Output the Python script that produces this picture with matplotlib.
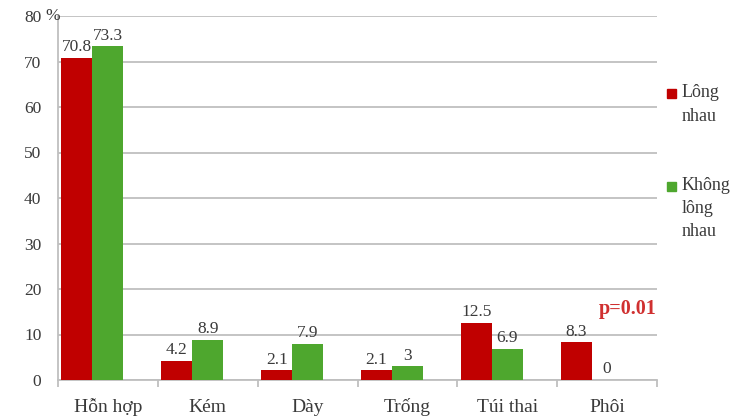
import matplotlib
matplotlib.use("Agg")
import matplotlib.pyplot as plt
import numpy as np

categories = ["Hỗn hợp", "Kém", "Dày", "Trống", "Túi thai", "Phôi"]
long_nhau = [70.8, 4.2, 2.1, 2.1, 12.5, 8.3]
khong_long_nhau = [73.3, 8.9, 7.9, 3.0, 6.9, 0.0]
long_labels = ["70.8", "4.2", "2.1", "2.1", "12.5", "8.3"]
khong_labels = ["73.3", "8.9", "7.9", "3", "6.9", "0"]
y_ticks = [0, 10, 20, 30, 40, 50, 60, 70, 80]
series_names = ["Lông\nnhau", "Không\nlông\nnhau"]
p_text = "p=0.01"

RED = "#c00000"
GREEN = "#4ea72e"
TEXT = "#3a3a3a"
GRID = "#bfbfbf"

plt.rcParams["font.family"] = ["Liberation Serif", "DejaVu Serif"]

W, H = 749, 420
fig = plt.figure(figsize=(W / 100, H / 100), dpi=100)
ax = fig.add_axes([58 / W, 40 / H, (657 - 58) / W, (404 - 40) / H])

x = np.arange(len(categories))
bw = 0.31
red_x = x - bw
green_x = x

ax.bar(red_x, long_nhau, width=bw, color=RED, zorder=3)
ax.bar(green_x, khong_long_nhau, width=bw, color=GREEN, zorder=3)

for xi, v, s in zip(red_x, long_nhau, long_labels):
    ax.text(xi, v + 0.6, s, ha="center", va="bottom", fontsize=12.5, color=TEXT)
for xi, v, s in zip(green_x, khong_long_nhau, khong_labels):
    ax.text(xi, v + 0.6, s, ha="center", va="bottom", fontsize=12.5, color=TEXT)

ax.set_xlim(-0.5, len(categories) - 0.5)
ax.set_ylim(0, 80)
ax.set_yticks(y_ticks)
ax.set_yticklabels([str(t) for t in y_ticks], fontsize=12.5, color=TEXT)
ax.yaxis.grid(True, color=GRID, lw=1.3, zorder=0)
ax.tick_params(axis="y", length=0, pad=12)

ax.set_xticks(x)
ax.set_xticklabels(categories, fontsize=14, color=TEXT)
for lbl in ax.get_xticklabels():
    lbl.set_verticalalignment("baseline")
ax.set_xticks(np.arange(len(categories) + 1) - 0.5, minor=True)
ax.tick_params(axis="x", which="major", length=0, pad=23)
ax.tick_params(axis="x", which="minor", length=5, color=GRID, width=1.3)

for side in ["top", "right"]:
    ax.spines[side].set_visible(False)
ax.spines["left"].set_color(GRID)
ax.spines["bottom"].set_color(GRID)
ax.spines["left"].set_linewidth(1.3)
ax.spines["bottom"].set_linewidth(1.3)

# percent sign next to the top tick
fig.text(45 / W, 1 - 16 / H, "%", ha="left", va="center", fontsize=12.5, color=TEXT)

ax.text(5.5, 15.5, p_text, ha="right", va="center", fontsize=14.5,
        fontweight="bold", color="#d03030")

# legend
fig.patches.append(plt.Rectangle((667 / W, 1 - 98 / H), 9 / W, 9 / H,
                                 transform=fig.transFigure, color=RED))
fig.text(682 / W, 1 - 84 / H, series_names[0], ha="left", va="top",
         fontsize=13, color=TEXT, linespacing=1.55)
fig.patches.append(plt.Rectangle((667 / W, 1 - 191 / H), 9 / W, 9 / H,
                                 transform=fig.transFigure, color=GREEN))
fig.text(682 / W, 1 - 177 / H, series_names[1], ha="left", va="top",
         fontsize=13, color=TEXT, linespacing=1.45)

fig.savefig("out.png", dpi=100)
